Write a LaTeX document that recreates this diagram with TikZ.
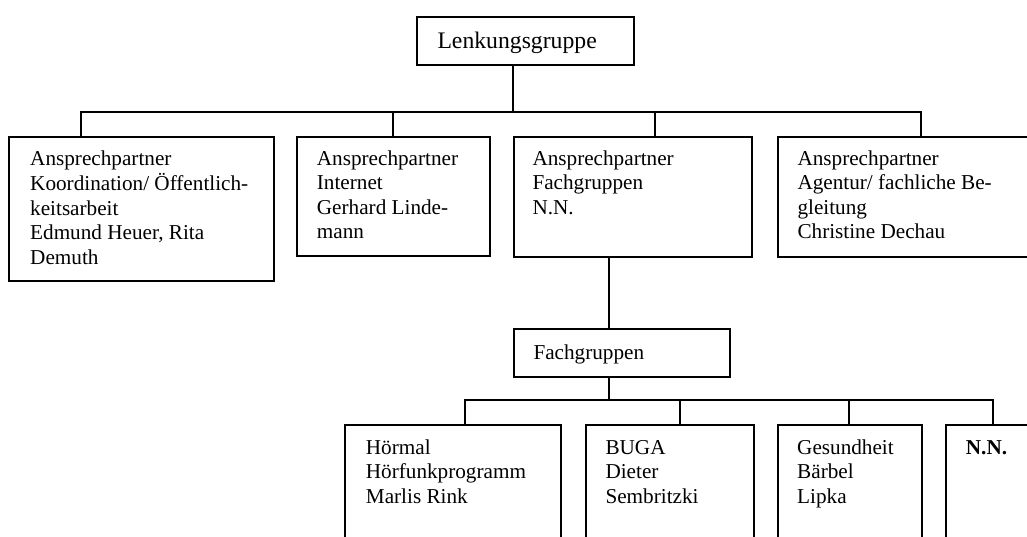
\documentclass[tikz,border=0pt]{standalone}
\usepackage{fontspec}
\setmainfont{Liberation Serif}
\begin{document}
\begin{tikzpicture}[x=1pt,y=-1pt,
  box/.style={draw, line width=1.8pt, rectangle, inner sep=0pt, anchor=north west},
  ln/.style={line width=1.8pt, line join=miter},
  txt/.style={anchor=north west, inner sep=0pt, align=left, font=\fontsize{21.2}{24.4}\selectfont},
]
\useasboundingbox (0,0) rectangle (1027,537);
\clip (0,0) rectangle (1027,537);
% boxes
\node[box, minimum width=217pt, minimum height=48pt] (lenk) at (416,16) {};
\node[box, minimum width=265pt, minimum height=144pt] (a1) at (8,136) {};
\node[box, minimum width=193pt, minimum height=119pt] (a2) at (296,136) {};
\node[box, minimum width=238pt, minimum height=120pt] (a3) at (513,136) {};
\node[box, minimum width=400pt, minimum height=120pt] (a4) at (777,136) {};
\node[box, minimum width=216pt, minimum height=48pt] (fach) at (513,328) {};
\node[box, minimum width=216pt, minimum height=200pt] (b1) at (344,424) {};
\node[box, minimum width=168pt, minimum height=200pt] (b2) at (585,424) {};
\node[box, minimum width=144pt, minimum height=200pt] (b3) at (777,424) {};
\node[box, minimum width=250pt, minimum height=200pt] (b4) at (945,424) {};
% texts
\node[anchor=base west, inner sep=0pt, font=\fontsize{23.7}{27}\selectfont] (lenkt) at (437.3,49) {Lenkungsgruppe};
\node[txt] (a1t) at (30,148.1) {\strut Ansprechpartner\\Koordination/ Öffentlich-\\keitsarbeit\\Edmund Heuer, Rita\\Demuth};
\node[txt] (a2t) at (316.7,148.1) {\strut Ansprechpartner\\Internet\\Gerhard Linde-\\mann};
\node[txt] (a3t) at (532.3,148.1) {\strut Ansprechpartner\\Fachgruppen\\N.N.};
\node[txt] (a4t) at (797.3,148.1) {\strut Ansprechpartner\\Agentur/ fachliche Be-\\gleitung\\Christine Dechau};
\node[txt] (facht) at (533.3,341.9) {\strut Fachgruppen};
\node[txt] (b1t) at (365.7,437.2) {\strut Hörmal\\Hörfunkprogramm\\Marlis Rink};
\node[txt] (b2t) at (605.3,437.2) {\strut BUGA\\Dieter\\Sembritzki};
\node[txt] (b3t) at (797,437.2) {\strut Gesundheit\\Bärbel\\Lipka};
\node[txt] (b4t) at (965.7,437.2) {\strut\textbf{N.N.}};
% connectors, upper level
\coordinate (top) at (513,112);
\coordinate (t1) at (81,112);
\coordinate (t2) at (393,112);
\coordinate (t3) at (655,112);
\coordinate (t4) at (921,112);
\draw[ln] (lenk.south -| top) -- (top);
\draw[ln] (t1 |- a1.north) -- (t1) -- (t4) -- (t4 |- a4.north);
\draw[ln] (t2) -- (t2 |- a2.north);
\draw[ln] (t3) -- (t3 |- a3.north);
% connectors, lower level
\coordinate (m) at (609,400);
\draw[ln] (a3.south -| m) -- (fach.north -| m);
\draw[ln] (fach.south -| m) -- (m);
\coordinate (u1) at (465,400);
\coordinate (u2) at (680,400);
\coordinate (u3) at (849,400);
\coordinate (u4) at (993,400);
\draw[ln] (u1 |- b1.north) -- (u1) -- (u4) -- (u4 |- b4.north);
\draw[ln] (u2) -- (u2 |- b2.north);
\draw[ln] (u3) -- (u3 |- b3.north);
\end{tikzpicture}
\end{document}
